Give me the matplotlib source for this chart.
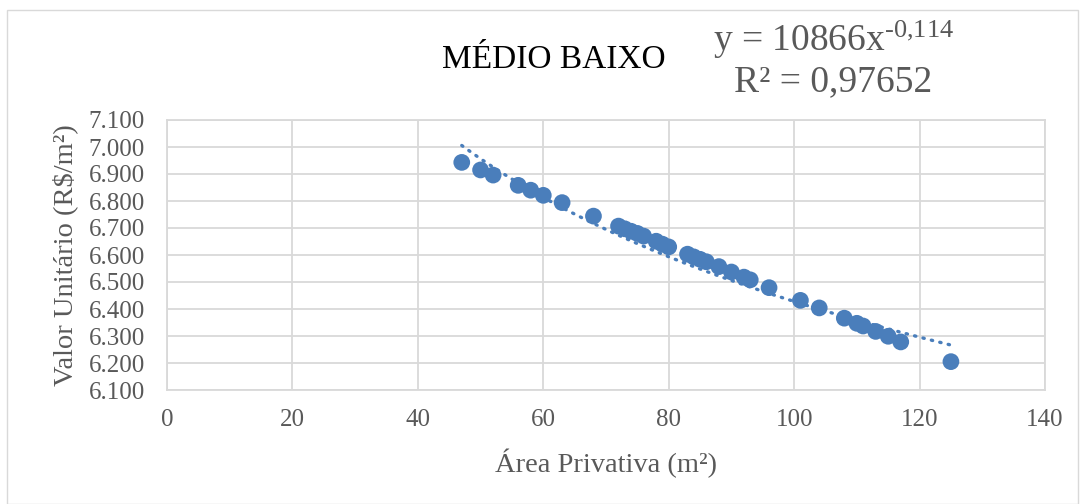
import numpy as np
import matplotlib
matplotlib.use("Agg")
import matplotlib.pyplot as plt
from matplotlib.ticker import FuncFormatter, MultipleLocator
from matplotlib.patches import Rectangle

plt.rcParams['font.family'] = ['Liberation Serif', 'DejaVu Serif']
plt.rcParams['mathtext.fontset'] = 'custom'
plt.rcParams['mathtext.rm'] = 'Liberation Serif'
plt.rcParams['mathtext.it'] = 'Liberation Serif:italic'

# Data
area = [47, 50, 52, 56, 58, 60, 63, 68, 72, 73, 74, 75, 76, 78, 79, 80,
        83, 84, 85, 86, 88, 90, 92, 93, 96, 101, 104, 108, 110, 111, 113,
        115, 117, 125]
valor = [6943, 6915, 6896, 6858, 6840, 6821, 6794, 6744, 6707, 6697, 6688,
         6680, 6670, 6651, 6640, 6630, 6603, 6593, 6584, 6575, 6557, 6537,
         6518, 6508, 6479, 6432, 6404, 6366, 6347, 6337, 6317, 6299, 6278,
         6205]
trend_a = 10866
trend_b = -0.114
title = "MÉDIO BAIXO"
eq_line1 = "y = 10866x$^{\\mathrm{\u2010" + "0{,}114}}$"
eq_line2 = "R² = 0,97652"
xlabel = "Área Privativa (m²)"
ylabel = "Valor Unitário (R$/m²)"

W, H = 1086, 504
fig = plt.figure(figsize=(W / 100, H / 100), dpi=100)
fig.patch.set_facecolor("white")
fig.patches.append(Rectangle((7 / W, 0), (1078 - 7) / W, 1 - 10 / H,
                             transform=fig.transFigure, fill=False,
                             edgecolor="#D9D9D9", linewidth=1.0))

ax = fig.add_axes([167 / W, 1 - 390 / H, (1045 - 167) / W, (390 - 120) / H])

blue = "#4A7EBB"
grid = "#D9D9D9"
txt = "#595959"

xs = np.linspace(min(area), max(area), 200)
ax.plot(xs, trend_a * xs ** trend_b, color=blue, linewidth=2.4,
        linestyle=(0, (0.4, 2.2)), dash_capstyle="round", zorder=2)
ax.scatter(area, valor, s=145, color=blue, edgecolors="none", zorder=3)

ax.set_xlim(0, 140)
ax.set_ylim(6100, 7100)
ax.xaxis.set_major_locator(MultipleLocator(20))
ax.yaxis.set_major_locator(MultipleLocator(100))
ax.yaxis.set_major_formatter(FuncFormatter(lambda v, p: f"{v:,.0f}".replace(",", ".")))
ax.grid(True, color=grid, linewidth=1.3)
ax.set_axisbelow(True)
for s in ax.spines.values():
    s.set_color(grid)
    s.set_linewidth(1.3)
ax.tick_params(length=0, labelsize=18, colors=txt)
ax.tick_params(axis="y", pad=16)
ax.tick_params(axis="x", pad=14)

fig.text(606 / W, 1 - 463 / H, xlabel, ha="center", va="center",
         fontsize=20.5, color=txt)
fig.text(65 / W, 1 - 255 / H, ylabel, ha="center", va="center",
         rotation=90, fontsize=20.5, color=txt)
fig.text(554 / W, 1 - 60 / H, title, ha="center", va="center",
         fontsize=24, color="black")
fig.text(833 / W, 1 - 40 / H, eq_line1, ha="center", va="center",
         fontsize=27, color=txt)
fig.text(833 / W, 1 - 82 / H, eq_line2, ha="center", va="center",
         fontsize=27, color=txt)

fig.savefig("out.png", dpi=100)
